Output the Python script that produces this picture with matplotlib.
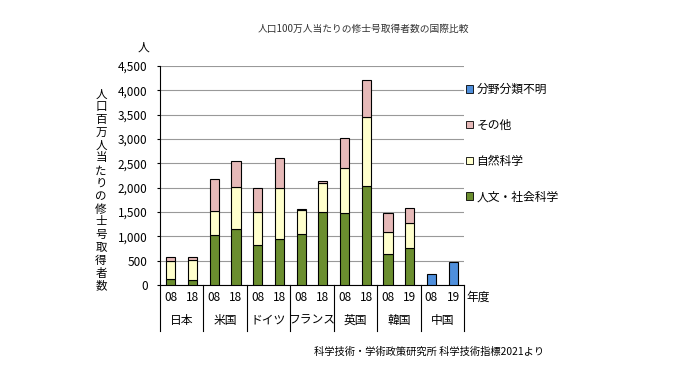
import numpy as np
import matplotlib
matplotlib.use('Agg')
import matplotlib.pyplot as plt
from matplotlib.patches import Patch

plt.rcParams['font.family'] = ['Noto Sans CJK JP', 'DejaVu Sans']

# data (people per million population)
countries = ['日本', '米国', 'ドイツ', 'フランス', '英国', '韓国', '中国']
years = ['08', '18', '08', '18', '08', '18', '08', '18', '08', '18', '08', '19', '08', '19']
humanities = [125, 110, 1030, 1150, 825, 935, 1055, 1490, 1480, 2035, 640, 770, 0, 0]
natural = [375, 400, 500, 865, 670, 1060, 490, 610, 920, 1415, 450, 505, 0, 0]
other = [75, 70, 640, 535, 500, 615, 12, 35, 625, 770, 390, 310, 0, 0]
unknown = [0, 0, 0, 0, 0, 0, 0, 0, 0, 0, 0, 0, 226, 473]
yticks = [0, 500, 1000, 1500, 2000, 2500, 3000, 3500, 4000, 4500]

c_green = '#6b8e2f'
c_cream = '#ffffcc'
c_pink = '#e6b9b8'
c_blue = '#4f8fdc'

fig = plt.figure(figsize=(6.98, 3.92), dpi=100)
ax = fig.add_axes([160 / 698, 1 - 285 / 392, 304 / 698, 219 / 392])

x = np.arange(len(years)) + 0.5
h = np.array(humanities)
n = np.array(natural)
o = np.array(other)
u = np.array(unknown)
w = 0.42
kw = dict(width=w, edgecolor='black', linewidth=0.8, zorder=3)
mask = h + n + o > 0
ax.bar(x[mask], h[mask], color=c_green, **kw)
ax.bar(x[mask], n[mask], bottom=h[mask], color=c_cream, **kw)
ax.bar(x[mask], o[mask], bottom=(h + n)[mask], color=c_pink, **kw)
ax.bar(x[~mask], u[~mask], color=c_blue, **kw)

ax.set_xlim(0, len(years))
ax.set_ylim(0, 4500)
ax.set_yticks(yticks)
ax.set_yticklabels([f'{v:,}' for v in yticks], fontsize=8.5)
ax.tick_params(axis='y', length=2, width=0.8, pad=7)
ax.set_xticks([])
ax.grid(axis='y', color='#999999', linewidth=0.8, zorder=0)
for s in ['top', 'right']:
    ax.spines[s].set_visible(False)
ax.spines['left'].set_linewidth(0.8)
ax.spines['bottom'].set_linewidth(0.8)

# category boxes under the axis
tr = ax.get_xaxis_transform()
for i in range(0, len(years) + 1, 2):
    ax.plot([i, i], [0, -0.21], transform=tr, color='black', lw=0.8, clip_on=False)
for xi, yr in zip(x, years):
    ax.text(xi, -0.055, yr, transform=tr, ha='center', va='center', fontsize=8.5)
for k, c in enumerate(countries):
    ax.text(2 * k + 1, -0.16, c, transform=tr, ha='center', va='center', fontsize=8.5)
ax.text(len(years) + 0.1, -0.055, '年度', transform=tr, ha='left', va='center', fontsize=8.5)

# axis annotations
fig.text(143 / 698, 1 - 47 / 392, '人', ha='center', va='center', fontsize=8.5)
fig.text(101 / 698, 1 - 190 / 392, '\n'.join('人口百万人当たりの修士号取得者数'),
         ha='center', va='center', fontsize=8.3, linespacing=0.98)
fig.text(363 / 698, 1 - 29 / 392, '人口100万人当たりの修士号取得者数の国際比較',
         ha='center', va='center', fontsize=7, color='#333333')
fig.text(429 / 698, 1 - 352 / 392, '科学技術・学術政策研究所 科学技術指標2021より',
         ha='center', va='center', fontsize=7.4)

handles = [Patch(facecolor=c_blue, edgecolor='black', linewidth=0.6),
           Patch(facecolor=c_pink, edgecolor='black', linewidth=0.6),
           Patch(facecolor=c_cream, edgecolor='black', linewidth=0.6),
           Patch(facecolor=c_green, edgecolor='black', linewidth=0.6)]
labels = ['分野分類不明', 'その他', '自然科学', '人文・社会科学']
fig.legend(handles, labels, loc='upper left', bbox_to_anchor=(466 / 698, 1 - 83 / 392),
           frameon=False, fontsize=8.5, handlelength=0.6, handleheight=0.6,
           handletextpad=0.3, labelspacing=1.93, borderaxespad=0, borderpad=0)

fig.savefig('out.png', dpi=100, facecolor='white')
